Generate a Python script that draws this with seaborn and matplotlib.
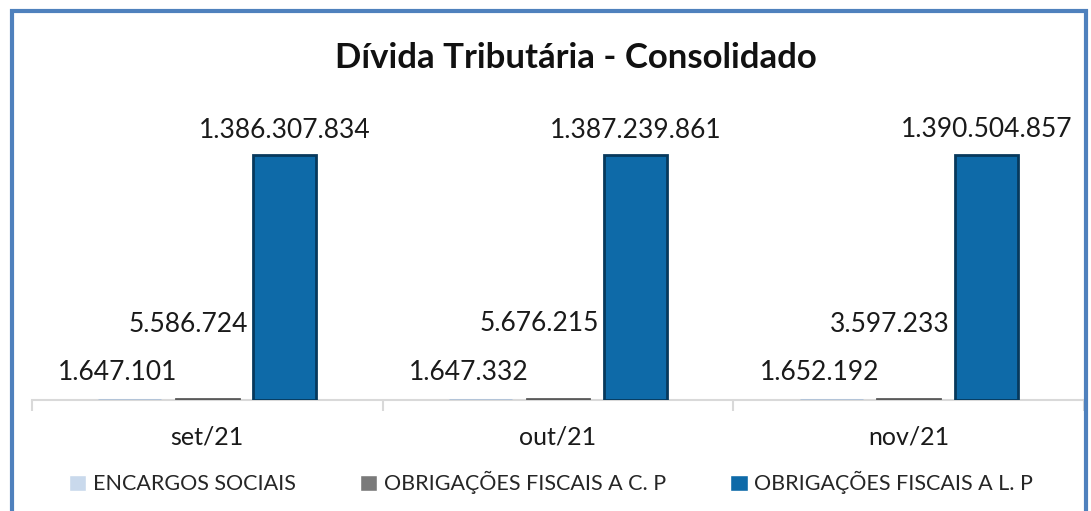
import numpy as np
import pandas as pd
import seaborn as sns
import matplotlib.pyplot as plt
from matplotlib.patches import Rectangle

# Dados
meses = ["set/21", "out/21", "nov/21"]
series = ["ENCARGOS SOCIAIS", "OBRIGAÇÕES FISCAIS A C. P", "OBRIGAÇÕES FISCAIS A L. P"]
encargos = [1647101, 1647332, 1652192]
obrig_cp = [5586724, 5676215, 3597233]
obrig_lp = [1386307834, 1387239861, 1390504857]

cores = ["#C9D9EC", "#7A7A7A", "#0E6AA8"]
bordas = ["#AFC2D8", "#5A5A5A", "#07395C"]

sns.set_theme(style="white")
plt.rcParams['font.family'] = ['Lato', 'DejaVu Sans']

df = pd.DataFrame({
    "mes": meses * 3,
    "serie": [series[0]] * 3 + [series[1]] * 3 + [series[2]] * 3,
    "valor": encargos + obrig_cp + obrig_lp,
})

fig = plt.figure(figsize=(10.91, 5.11), dpi=100)
ax = fig.add_axes([32 / 1091, 111 / 511, 1052 / 1091, 300 / 511])

sns.barplot(data=df, x="mes", y="valor", hue="serie", hue_order=series,
            palette=cores, width=0.663, gap=0.19, ax=ax, saturation=1)

# bordas das barras (deixa as pequenas visiveis acima do eixo)
for cont, ec in zip(ax.containers, bordas):
    for p in cont:
        p.set_edgecolor(ec)
        p.set_linewidth(2)
        p.set_zorder(3)

ax.set_ylim(0, 1.70e9)

# rotulos
offsets = [(-12, 27), (-19, 75), (0, 25)]
for cont, (dx, dy) in zip(ax.containers, offsets):
    for p in cont:
        v = p.get_height()
        txt = f"{int(round(v)):,}".replace(",", ".")
        ax.annotate(txt, (p.get_x() + p.get_width() / 2, v), xytext=(dx, dy),
                    textcoords="offset pixels", ha="center", va="center",
                    fontsize=19, color="#1a1a1a")

ax.set_xlabel("")
ax.set_ylabel("")
ax.set_yticks([])
for s in ["left", "right", "top"]:
    ax.spines[s].set_visible(False)
ax.spines["bottom"].set_color("#D9D9D9")
ax.spines["bottom"].set_linewidth(1.5)

ax.set_xticks([-0.5, 0.5, 1.5, 2.5], minor=True)
ax.tick_params(axis="x", which="minor", bottom=True, length=8, color="#D9D9D9",
               width=1.5, direction="out")
ax.tick_params(axis="x", which="major", bottom=True, length=0, pad=18, labelsize=18,
               labelcolor="#1a1a1a")

sns.move_legend(ax, "center", bbox_to_anchor=(0.505, 0.055), bbox_transform=fig.transFigure,
                ncol=3, frameon=False, title=None, fontsize=15.5, handlelength=0.8,
                handleheight=0.8, handletextpad=0.3, columnspacing=3.0)

fig.text(0.528, 0.886, "Dívida Tributária - Consolidado", ha="center", va="center",
         fontsize=25, fontweight="bold", color="#111111")

ax.set_xlim(-0.5, 2.5)

# moldura azul
fig.patches.append(Rectangle((12 / 1091, -0.05), 1074 / 1091, 0.05 + 500 / 511,
                             transform=fig.transFigure, fill=False,
                             edgecolor="#4F81BD", linewidth=3, zorder=10))

fig.savefig("out.png", dpi=100)
